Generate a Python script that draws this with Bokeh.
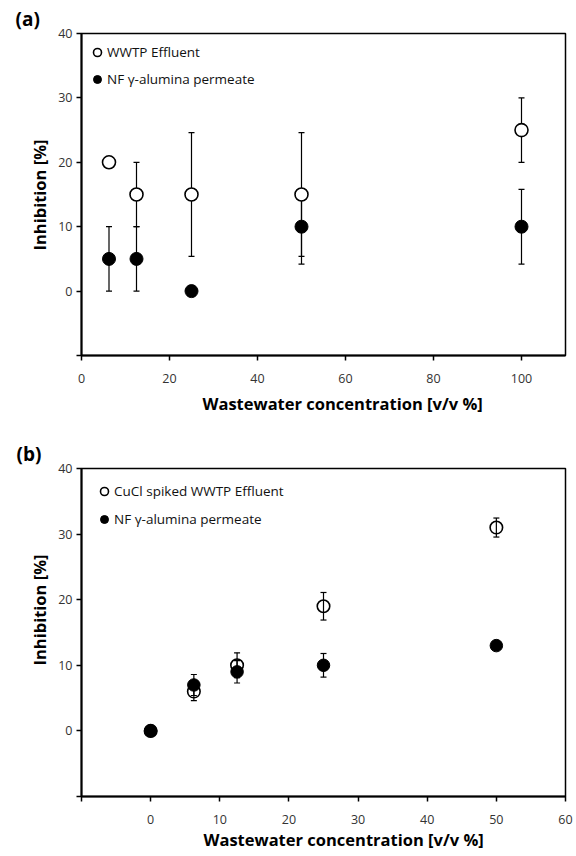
import math
from bokeh.plotting import figure
from bokeh.models import (Range1d, FixedTicker, Whisker, TeeHead, ColumnDataSource,
                          Legend, LegendItem, Title)
from bokeh.layouts import column
from bokeh.embed import file_html
from bokeh.resources import INLINE

# ---------------- data ----------------
conc_a = [6.25, 12.5, 25, 50, 100]
wwtp_a = [20, 15, 15, 15, 25]
wwtp_err_a = [0, 5, 9.6, 9.6, 5]
nf_a = [5, 5, 0, 10, 10]
nf_err_a = [5, 5, 0, 5.8, 5.8]

conc_b = [0, 6.25, 12.5, 25, 50]
cucl_b = [0, 6, 10, 19, 31]
cucl_err_b = [0, 1.4, 1.9, 2.1, 1.45]
nf_b = [0, 7, 9, 10, 13]
nf_err_b = [0, 1.6, 1.7, 1.8, 0]

y_ticks = [-10, 0, 10, 20, 30, 40]
x_ticks_a = [0, 20, 40, 60, 80, 100]
x_ticks_b = [-10, 0, 10, 20, 30, 40, 50, 60]

legend_a = ["WWTP Effluent", "NF \u03b3-alumina permeate"]
legend_b = ["CuCl spiked WWTP Effluent", "NF \u03b3-alumina permeate"]

FONT = "Open Sans"
TICK_SIZE = "12.5px"
TITLE_SIZE = "16.5px"


def err_source(x, y, e):
    xs, up, lo = [], [], []
    for xi, yi, ei in zip(x, y, e):
        if ei > 0:
            xs.append(xi)
            up.append(yi + ei)
            lo.append(yi - ei)
    return ColumnDataSource(dict(x=xs, upper=up, lower=lo))


def make_panel(height, border_top, border_bottom, border_left, border_right,
               xr, x_ticks, x, y1, e1, y2, e2, names, marker_size, whisker_level,
               legend_xy, legend_spacing, panel_tag, tag_offset,
               xt_offset, xt_standoff, yt_offset):
    p = figure(width=576, height=height, output_backend="svg", toolbar_location=None,
               x_range=Range1d(*xr), y_range=Range1d(-10, 40),
               min_border_top=border_top, min_border_bottom=border_bottom,
               min_border_left=border_left, min_border_right=border_right,
               title=panel_tag)
    p.grid.visible = False
    p.outline_line_color = "black"
    p.outline_line_width = 1.5
    p.background_fill_color = "white"
    p.border_fill_color = "white"

    p.title.text_font = FONT
    p.title.text_font_size = "19px"
    p.title.text_font_style = "bold"
    p.title.text_color = "black"
    p.title.align = "left"
    p.title.offset = tag_offset
    p.title.standoff = 3

    for ax in (p.xaxis[0], p.yaxis[0]):
        ax.axis_line_color = "black"
        ax.axis_line_width = 2
        ax.major_tick_line_color = "black"
        ax.major_tick_line_width = 1.5
        ax.major_tick_out = 5
        ax.major_tick_in = 0
        ax.minor_tick_line_color = None
        ax.major_label_text_font = FONT
        ax.major_label_text_font_size = TICK_SIZE
        ax.major_label_text_color = "#333333"

    p.xaxis.ticker = FixedTicker(ticks=x_ticks)
    p.yaxis.ticker = FixedTicker(ticks=y_ticks)
    p.xaxis.major_label_overrides = {-10: ""}
    p.yaxis.major_label_overrides = {-10: ""}
    p.yaxis.major_label_standoff = 4
    p.xaxis.major_label_standoff = 13

    # axis titles as side-panel titles (precise placement along the axis)
    xt = Title(text="Wastewater concentration [v/v %]", align="left", offset=xt_offset,
               vertical_align="top", standoff=xt_standoff, text_font=FONT,
               text_font_size=TITLE_SIZE, text_font_style="bold", text_color="black")
    p.add_layout(xt, "below")
    yt = Title(text="Inhibition [%]", align="left", offset=yt_offset,
               vertical_align="bottom", standoff=10, text_font=FONT,
               text_font_size=TITLE_SIZE, text_font_style="bold", text_color="black")
    p.add_layout(yt, "left")

    # error bars
    for yy, ee in ((y1, e1), (y2, e2)):
        src = err_source(x, yy, ee)
        w = Whisker(source=src, base="x", upper="upper", lower="lower",
                    dimension="height", line_color="black", line_width=1.2,
                    level=whisker_level,
                    upper_head=TeeHead(size=6, line_color="black", line_width=1.2),
                    lower_head=TeeHead(size=6, line_color="black", line_width=1.2))
        p.add_layout(w)

    r1 = p.scatter(x, y1, size=marker_size, marker="circle", fill_color="white",
                   line_color="black", line_width=1.6)
    r2 = p.scatter(x, y2, size=marker_size, marker="circle", fill_color="black",
                   line_color="black", line_width=1)

    leg = Legend(items=[LegendItem(label=names[0], renderers=[r1]),
                        LegendItem(label=names[1], renderers=[r2])],
                 location=legend_xy, orientation="vertical",
                 padding=0, margin=0, spacing=legend_spacing,
                 glyph_width=20, glyph_height=20, label_height=20,
                 label_standoff=0, border_line_color=None,
                 background_fill_alpha=0,
                 label_text_font=FONT, label_text_font_size="13.5px",
                 label_text_color="#111111")
    p.add_layout(leg, "center")
    return p


# panel (a): frame 81..565 x 33..355 (figure height 428)
pa = make_panel(428, 33, 73, 81, 11, (0, 110), x_ticks_a,
                conc_a, wwtp_a, wwtp_err_a, nf_a, nf_err_a, legend_a, 13, "underlay",
                (6, 266), 7, "(a)", -66, 121, 12, 105)

# panel (b): frame 80..568 x 468..796 (figure offset 428, height 428)
pb = make_panel(428, 40, 60, 80, 8, (-10, 60), x_ticks_b,
                conc_b, cucl_b, cucl_err_b, nf_b, nf_err_b, legend_b, 12.5, "overlay",
                (13, 267), 8, "(b)", -65, 122, 3, 131)

layout = column(pa, pb, spacing=0)
open("out.html", "w").write(file_html(layout, INLINE))
